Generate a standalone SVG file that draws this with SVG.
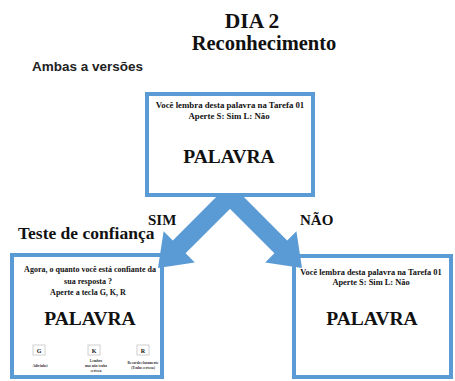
<svg xmlns="http://www.w3.org/2000/svg" width="455" height="381" viewBox="0 0 455 381">
<style>
.box{fill:#fff;stroke:#5b9bd5;stroke-width:4}
.ser{font-family:"Liberation Serif","Times New Roman",serif;font-weight:bold;fill:#111}
.sm{font-size:8.4px}
.big{font-size:19.5px}
.tiny{font-family:"Liberation Serif",serif;font-size:3.6px;font-weight:bold;fill:#333}
.key{fill:#fff;stroke:#d0d0d0;stroke-width:1}
.arr{fill:#5b9bd5}
</style>
<rect width="455" height="381" fill="#fff"/>
<text class="ser" x="252" y="28" font-size="21.5" text-anchor="middle">DIA 2</text>
<text class="ser" x="264" y="50" font-size="20.5" text-anchor="middle">Reconhecimento</text>
<text x="32" y="71" font-family="Liberation Sans, Arial, sans-serif" font-size="13.5" font-weight="bold" fill="#222">Ambas a versões</text>
<text class="ser" x="148" y="225" font-size="15">SIM</text>
<text class="ser" x="300" y="225" font-size="15">NÃO</text>
<text class="ser" x="18" y="239" font-size="17.5">Teste de confiança</text>

<g id="node-confianca">
<rect class="box" x="12" y="255" width="150" height="122"/>
<text class="ser" x="90" y="272" font-size="8" text-anchor="middle">Agora, o quanto você está confiante da</text>
<text class="ser" x="88" y="284" font-size="8" text-anchor="middle">sua resposta ?</text>
<text class="ser" x="88" y="295" font-size="8" text-anchor="middle">Aperte a tecla G, K, R</text>
<text class="ser big" x="90" y="325" text-anchor="middle">PALAVRA</text>
<rect class="key" x="33" y="345" width="12" height="10"/>
<text class="ser" x="39" y="352.5" font-size="6" text-anchor="middle">G</text>
<rect class="key" x="88" y="345" width="12" height="10"/>
<text class="ser" x="94" y="352.5" font-size="6" text-anchor="middle">K</text>
<rect class="key" x="137" y="345" width="12" height="10"/>
<text class="ser" x="143" y="352.5" font-size="6" text-anchor="middle">R</text>
<text class="tiny" x="40" y="367" text-anchor="middle">Adivinhei</text>
<text class="tiny" x="96" y="362" text-anchor="middle">Lembro</text>
<text class="tiny" x="96" y="367" text-anchor="middle">mas não tenho</text>
<text class="tiny" x="96" y="372" text-anchor="middle">certeza</text>
<text class="tiny" x="143" y="364" text-anchor="middle">Recordo claramente</text>
<text class="tiny" x="143" y="369" text-anchor="middle">(Tenho certeza)</text>
</g>

<g id="node-nao">
<rect class="box" x="294" y="256" width="157" height="121"/>
<text class="ser sm" x="371" y="275" text-anchor="middle">Você  lembra desta palavra na Tarefa 01</text>
<text class="ser sm" x="371" y="285" text-anchor="middle">Aperte S: Sim L: Não</text>
<text class="ser big" x="372" y="325" text-anchor="middle">PALAVRA</text>
</g>

<g id="connectors">
<polygon class="arr" points="223.6,189.6 172.8,240.4 163.6,231.2 158,268 194.8,262.4 185.6,253.2 236.4,202.4"/>
<polygon class="arr" points="236.4,189.6 287.2,240.4 296.4,231.2 302,268 265.2,262.4 274.4,253.2 223.6,202.4"/>
</g>

<g id="node-inicial">
<rect class="box" x="147" y="94" width="166" height="101"/>
<text class="ser" x="230" y="108" font-size="8.8" text-anchor="middle">Você  lembra desta palavra na Tarefa 01</text>
<text class="ser" x="229" y="119" font-size="8.8" text-anchor="middle">Aperte S: Sim L: Não</text>
<text class="ser big" x="229" y="163" text-anchor="middle">PALAVRA</text>
</g>
</svg>
